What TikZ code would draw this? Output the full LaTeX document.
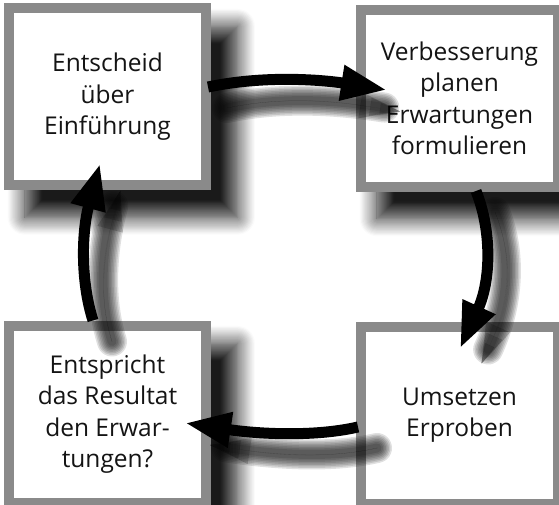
\documentclass[tikz,border=0pt]{standalone}
\usepackage{fontspec}
\newfontfamily\boxfont{Open Sans}
\usetikzlibrary{arrows.meta,shadows.blur,calc}
\definecolor{boxgray}{RGB}{138,138,138}
\definecolor{txt}{RGB}{20,20,20}
\begin{document}
\begin{tikzpicture}[x=1pt,y=-1pt,
  box/.style={draw=boxgray, line width=10pt, fill=white,
    minimum width=197pt, minimum height=177pt, inner sep=0pt,
    align=center, text=txt, font={\boxfont\fontsize{24.5}{31.5}\selectfont},
    blur shadow={shadow xshift=22pt, shadow yshift=-23pt, shadow scale=1.08,
      shadow blur radius=16pt, shadow blur steps=16, shadow opacity=90}},
  arr/.style={line width=11pt, black, -{Triangle[length=46pt,width=33pt]}},
  shline/.style={line width=#1, black, opacity=0.12, line cap=round, shorten >=22pt},
  shtip/.style={line width=0.1pt, black, opacity=0.16, -{Triangle[#1]}},
]
\useasboundingbox (0,0) rectangle (559,505);
\node[box] (b1) at (107.5,97) {Entscheid\\über\\Einführung};
\node[box] (b2) at (459.5,98.5) {Verbesserung\\planen\\Erwartungen\\formulieren};
\node[box] (b3) at (107.5,414) {Entspricht\\das Resultat\\den Erwar-\\tungen?};
\node[box] (b4) at (459.5,415) {Umsetzen\\Erproben};

% shadows of connectors
\begin{scope}[transform canvas={shift={(19pt,-21pt)}}]
\foreach \w in {30pt,27pt,24pt,21pt,18pt,15pt,12pt,9pt}{
  \draw[shline=\w] ($(b1.east)+(-3,-10)$) .. controls +(62,-13) and +(-57,-9) .. ($(b2.west)+(31,-8.5)$);
  \draw[shline=\w] ($(b2.south)+(16.5,-1)$) .. controls +(16,40) and +(31,-68) .. ($(b4.north)+(0.5,27)$);
  \draw[shline=\w] ($(b4.west)+(2,12)$) .. controls +(-48,11) and +(66,10) .. ($(b3.east)+(-26,9)$);
  \draw[shline=\w] ($(b3.north)+(-14.5,0)$) .. controls +(-13,-41) and +(-18,67) .. ($(b1.south)+(-7.5,-27)$);
}
\foreach \t in {{length=40pt,width=26pt},{length=30pt,width=18pt},{length=20pt,width=10pt}}{
  \draw[shtip=\t] ($(b1.east)+(-3,-10)$) .. controls +(62,-13) and +(-57,-9) .. ($(b2.west)+(25,-8)$);
  \draw[shtip=\t] ($(b2.south)+(16.5,-1)$) .. controls +(16,40) and +(31,-68) .. ($(b4.north)+(3,21)$);
  \draw[shtip=\t] ($(b4.west)+(2,12)$) .. controls +(-48,11) and +(66,10) .. ($(b3.east)+(-20,10)$);
  \draw[shtip=\t] ($(b3.north)+(-14.5,0)$) .. controls +(-13,-41) and +(-18,67) .. ($(b1.south)+(-6,-21)$);
}
\end{scope}

% connectors
\draw[arr] ($(b1.east)+(-3,-10)$) .. controls +(62,-13) and +(-57,-9) .. ($(b2.west)+(31,-8.5)$);
\draw[arr] ($(b2.south)+(16.5,-1)$) .. controls +(16,40) and +(31,-68) .. ($(b4.north)+(0.5,27)$);
\draw[arr] ($(b4.west)+(2,12)$) .. controls +(-48,11) and +(66,10) .. ($(b3.east)+(-26,9)$);
\draw[arr] ($(b3.north)+(-14.5,0)$) .. controls +(-13,-41) and +(-18,67) .. ($(b1.south)+(-7.5,-27)$);
\end{tikzpicture}
\end{document}
